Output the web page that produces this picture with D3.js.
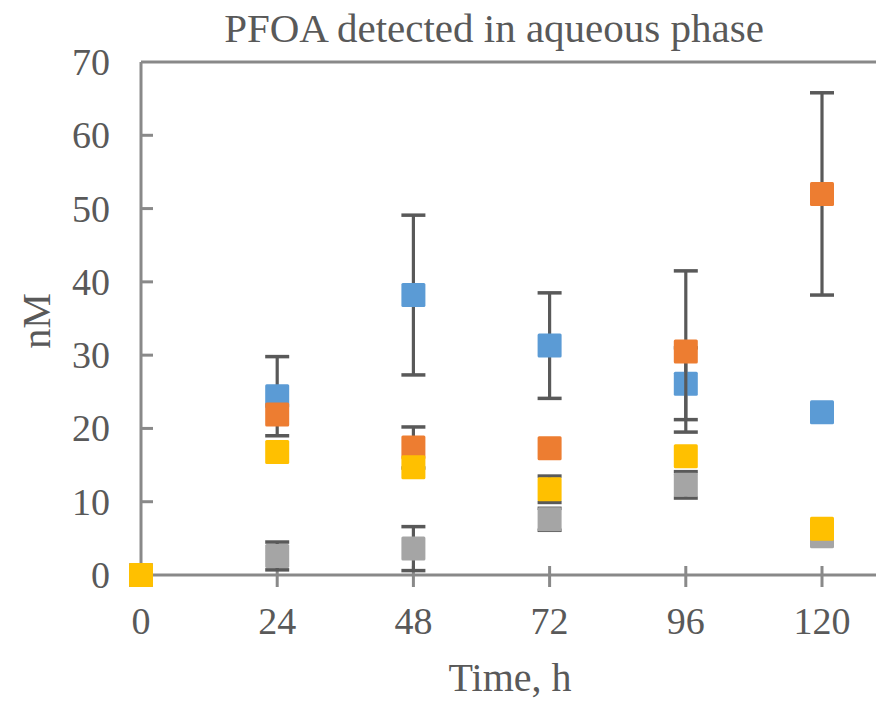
<!DOCTYPE html>
<html>
<head>
<meta charset="utf-8">
<script src="https://cdn.jsdelivr.net/npm/d3@7"></script>
<style>
  body { margin: 0; background: #fff; }
  svg text { font-family: "Liberation Serif", "Times New Roman", serif; fill: #595959; }
</style>
</head>
<body>
<svg id="chart" width="876" height="704"></svg>
<script>
// time points, h
const times = [0, 24, 48, 72, 96, 120];
const seriesNames = ["A", "B", "C", "D"];
const seriesColors = ["#5B9BD5", "#ED7D31", "#A5A5A5", "#FFC000"];
// PFOA, nM
const blueVals   = [0, 24.4, 38.2, 31.3, 26.1, 22.2];
const blueErr    = [0, 5.4, 10.9, 7.2, 4.9, 0];
const orangeVals = [0, 21.9, 17.4, 17.3, 30.5, 52.0];
const orangeErr  = [0, 0, 2.8, 0, 11.0, 13.8];
const grayVals   = [0, 2.6, 3.6, 7.6, 12.3, 5.3];
const grayErr    = [0, 1.9, 3.0, 1.5, 1.8, 0];
const yellowVals = [0, 16.8, 14.7, 11.7, 16.2, 6.3];
const yellowErr  = [0, 0, 0, 1.8, 0, 0];
const yTicks = [0, 10, 20, 30, 40, 50, 60, 70];

const values = [blueVals, orangeVals, grayVals, yellowVals];
const errors = [blueErr, orangeErr, grayErr, yellowErr];

const plotLeft = 141, plotRight = 876, plotTop = 62, plotBottom = 575;
const axisColor = "#898989";
const barColor = "#595959";
const markerSize = 24;
const capWidth = 24;

const svg = d3.select("#chart");

const x = d3.scaleLinear().domain([0, 120]).range([plotLeft, 822]);
const y = d3.scaleLinear().domain([0, 70]).range([plotBottom, plotTop]);

// title
svg.append("text")
  .attr("x", 494).attr("y", 42)
  .attr("text-anchor", "middle")
  .style("font-size", "41px")
  .text("PFOA detected in aqueous phase");

// top border line
svg.append("line")
  .attr("x1", plotLeft).attr("x2", plotRight)
  .attr("y1", y(70)).attr("y2", y(70))
  .style("stroke", axisColor).style("stroke-width", 3);

// y axis
const yAxis = svg.append("g");
yAxis.append("line")
  .attr("x1", plotLeft).attr("x2", plotLeft)
  .attr("y1", y(70)).attr("y2", y(0))
  .style("stroke", axisColor).style("stroke-width", 3);
yAxis.selectAll(".ytick")
  .data(yTicks.filter(d => d > 0 && d < 70))
  .join("line")
  .attr("x1", plotLeft).attr("x2", plotLeft + 12)
  .attr("y1", d => y(d)).attr("y2", d => y(d))
  .style("stroke", axisColor).style("stroke-width", 3);
yAxis.selectAll(".ylab")
  .data(yTicks)
  .join("text")
  .attr("x", 110)
  .attr("y", d => y(d) + 13)
  .attr("text-anchor", "end")
  .style("font-size", "38px")
  .text(d => d);

// x axis
const xAxis = svg.append("g");
xAxis.append("line")
  .attr("x1", plotLeft).attr("x2", plotRight)
  .attr("y1", y(0)).attr("y2", y(0))
  .style("stroke", axisColor).style("stroke-width", 3);
xAxis.selectAll(".xtick")
  .data(times.filter(d => d > 0))
  .join("line")
  .attr("x1", d => x(d)).attr("x2", d => x(d))
  .attr("y1", y(0) - 9).attr("y2", y(0) + 12)
  .style("stroke", axisColor).style("stroke-width", 3);
xAxis.selectAll(".xlab")
  .data(times)
  .join("text")
  .attr("x", d => x(d))
  .attr("y", 634)
  .attr("text-anchor", "middle")
  .style("font-size", "38px")
  .text(d => d);

// axis titles
svg.append("text")
  .attr("x", 510).attr("y", 691)
  .attr("text-anchor", "middle")
  .style("font-size", "40px")
  .text("Time, h");
svg.append("text")
  .attr("transform", "translate(50,321) rotate(-90)")
  .attr("text-anchor", "middle")
  .style("font-size", "40px")
  .text("nM");

// series: error bars then markers, in series order
for (let s = 0; s < seriesNames.length; ++s) {
  let pts = times.map((t, i) => ({ t: t, v: values[s][i], e: errors[s][i] }));
  let g = svg.append("g");
  let withErr = pts.filter(d => d.e > 0);
  g.selectAll(".stem")
    .data(withErr)
    .join("line")
    .attr("x1", d => x(d.t)).attr("x2", d => x(d.t))
    .attr("y1", d => y(d.v + d.e)).attr("y2", d => y(d.v - d.e))
    .style("stroke", barColor).style("stroke-width", 3.2);
  g.selectAll(".capTop")
    .data(withErr)
    .join("line")
    .attr("x1", d => x(d.t) - capWidth / 2).attr("x2", d => x(d.t) + capWidth / 2)
    .attr("y1", d => y(d.v + d.e)).attr("y2", d => y(d.v + d.e))
    .style("stroke", barColor).style("stroke-width", 3.5);
  g.selectAll(".capBot")
    .data(withErr)
    .join("line")
    .attr("x1", d => x(d.t) - capWidth / 2).attr("x2", d => x(d.t) + capWidth / 2)
    .attr("y1", d => y(d.v - d.e)).attr("y2", d => y(d.v - d.e))
    .style("stroke", barColor).style("stroke-width", 3.5);
  g.selectAll(".marker")
    .data(pts)
    .join("rect")
    .attr("x", d => x(d.t) - markerSize / 2)
    .attr("y", d => y(d.v) - markerSize / 2)
    .attr("width", markerSize).attr("height", markerSize)
    .attr("rx", 1.5)
    .style("fill", seriesColors[s]);
}
</script>
</body>
</html>
